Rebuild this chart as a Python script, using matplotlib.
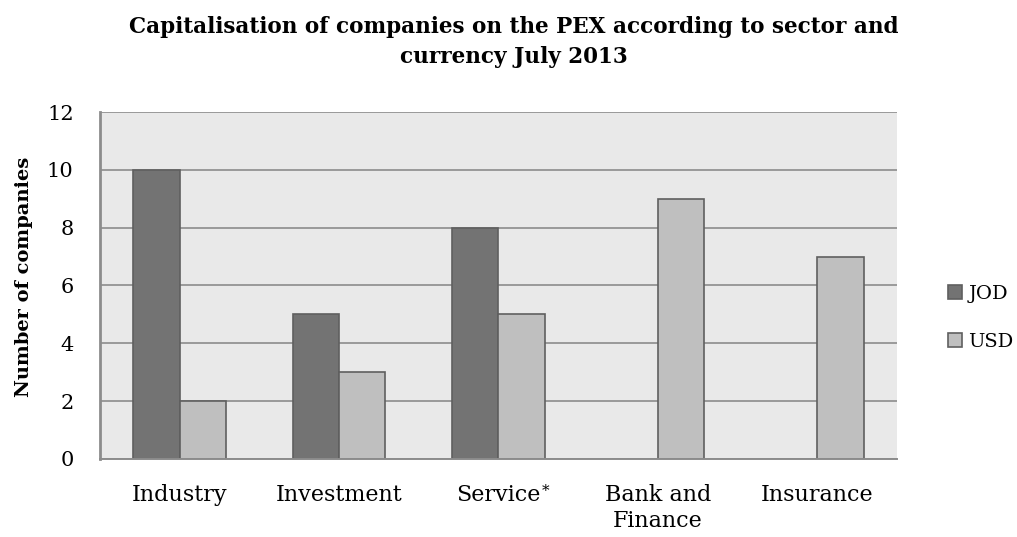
import numpy as np
import matplotlib
matplotlib.use("Agg")
import matplotlib.pyplot as plt

categories = ["Industry", "Investment", "Service", "Bank and\nFinance", "Insurance"]
jod = [10, 5, 8, 0, 0]
usd = [2, 3, 5, 9, 7]

plt.rcParams['font.family'] = ['DejaVu Serif']

fig = plt.figure(figsize=(10.17, 5.37), dpi=100)
ax = fig.add_axes([0.0983, 0.1453, 0.7837, 0.6461])

x = np.arange(len(categories))
w = 0.29
edge = '#5f5f5f'
ax.bar(x - w / 2, jod, w, color='#737373', edgecolor=edge, linewidth=1.2, label='JOD', zorder=3)
ax.bar(x + w / 2, usd, w, color='#bfbfbf', edgecolor=edge, linewidth=1.2, label='USD', zorder=3)

ax.set_facecolor('#e9e9e9')
ax.set_xlim(-0.5, len(categories) - 0.5)
ax.set_ylim(0, 12)
ax.set_yticks(range(0, 13, 2))
ax.yaxis.grid(True, color='#8c8c8c', linewidth=1.2, zorder=0)
ax.set_axisbelow(True)
for s in ['top', 'right']:
    ax.spines[s].set_visible(False)
ax.spines['left'].set_color('#8c8c8c')
ax.spines['left'].set_linewidth(2.0)
ax.spines['bottom'].set_color('#8c8c8c')
ax.spines['bottom'].set_linewidth(1.4)
ax.spines['bottom'].set_zorder(4)
ax.tick_params(axis='x', length=0, labelsize=16, pad=18)
ax.tick_params(axis='y', length=0, labelsize=15, pad=19)
ax.set_xticks(x)
ax.set_xticklabels(categories, linespacing=1.25)

# footnote mark on "Service"
ax.annotate('*', xy=(1.0, 1.0), xycoords=ax.get_xticklabels()[2],
            xytext=(1, 0), textcoords='offset points', ha='left', va='top', fontsize=11)

ax.set_ylabel('Number of companies', fontsize=14, fontweight='bold')
ax.yaxis.set_label_coords(-0.084, 0.524)

fig.suptitle('Capitalisation of companies on the PEX according to sector and\ncurrency July 2013',
             fontsize=15.5, fontweight='bold', y=0.97, x=0.505, linespacing=1.45)

fig.legend(loc='center left', bbox_to_anchor=(0.932, 0.408), bbox_transform=fig.transFigure,
           frameon=False, fontsize=14, borderpad=0, borderaxespad=0,
           handlelength=0.75, handleheight=0.75, handletextpad=0.3, labelspacing=1.55)

fig.savefig('out.png', dpi=100)
